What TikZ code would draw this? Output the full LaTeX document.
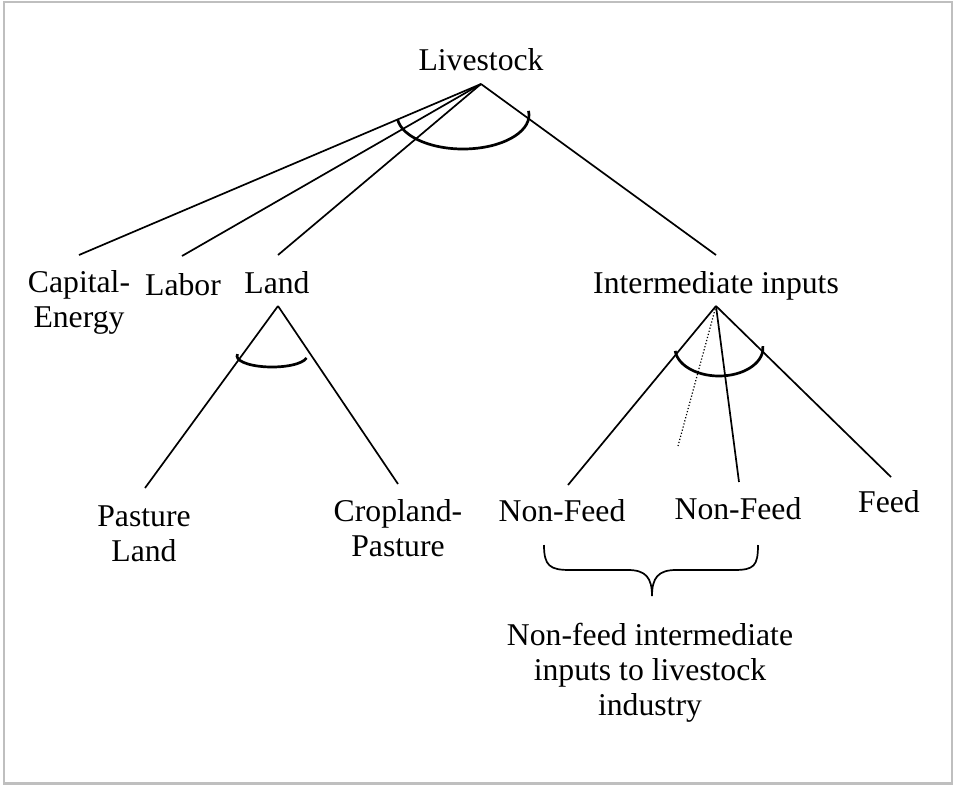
\documentclass[tikz,border=0pt]{standalone}
\usepackage{fontspec}
\setmainfont{Liberation Serif}
\usepackage{tikz}
\usetikzlibrary{arrows}
\definecolor{framegray}{RGB}{191,191,191}

\begin{document}
\begin{tikzpicture}[x=1pt,y=-1pt,-,line width=1.7pt]
  \tikzstyle{every node}=[font=\fontsize{31.7}{35}\selectfont,align=center,inner sep=0pt,anchor=base]
  \tikzstyle{nest}=[line width=2.7pt]

  \useasboundingbox (0,0) rectangle (953,785);
  \draw[line width=2.3pt,draw=framegray] (3.7,2) rectangle (951.8,783.5);

  % multi-line nodes sit on the baseline of their last line
  \node (L)   at (481,70)  {Livestock};
  \node (KE)  at (79,327)  {Capital-\\Energy};
  \node (LB)  at (183,295) {Labor};
  \node (LD)  at (277,293) {Land};
  \node (II)  at (716,293) {Intermediate inputs};
  \node (PL)  at (144,561) {Pasture\\Land};
  \node (CP)  at (398,556) {Cropland-\\Pasture};
  \node (NF1) at (562,521) {Non-Feed};
  \node (NF2) at (738,519) {Non-Feed};
  \node (F)   at (889,512) {Feed};
  \node (NFI) at (650,715) {Non-feed intermediate\\inputs to livestock\\industry};

  % tops and feet of the branches
  \coordinate (L-top)   at (481,84);
  \coordinate (KE-ft)   at (79,255);
  \coordinate (LB-ft)   at (182,256);
  \coordinate (LD-ft)   at (278,255);
  \coordinate (II-ft)   at (716,255);
  \coordinate (LD-top)  at (278,306);
  \coordinate (PL-ft)   at (145,488);
  \coordinate (CP-ft)   at (398,484);
  \coordinate (II-top)  at (716,306);
  \coordinate (NF1-ft)  at (568,485);
  \coordinate (NF2-ft)  at (739,482);
  \coordinate (F-ft)    at (891,477);
  \coordinate (dot-ft)  at (678,446);

  \path (L-top) edge (KE-ft) edge (LB-ft) edge (LD-ft) edge (II-ft)
        (LD-top) edge (PL-ft) edge (CP-ft)
        (II-top) edge (NF1-ft) edge (NF2-ft) edge (F-ft);
  \draw[dotted,line width=1.2pt] (II-top) -- (dot-ft);

  % substitution arcs
  \draw[nest] (463,115) ++(173:66 and 34) arc[start angle=173,end angle=-7,x radius=66,y radius=34];
  \draw[nest] (272,356) ++(190:35 and 11) arc[start angle=190,end angle=10,x radius=35,y radius=11];
  \draw[nest] (719,348) ++(174:44 and 28) arc[start angle=174,end angle=-4,x radius=44,y radius=28];

  % brace under the non-feed inputs
  \draw (544,545) .. controls (544,566) and (550,570) .. (570,570) -- (628,570)
        .. controls (646,570) and (652,578) .. (652,596)
        .. controls (652,578) and (658,570) .. (676,570) -- (734,570)
        .. controls (754,570) and (758,566) .. (758,545);
\end{tikzpicture}
\end{document}
